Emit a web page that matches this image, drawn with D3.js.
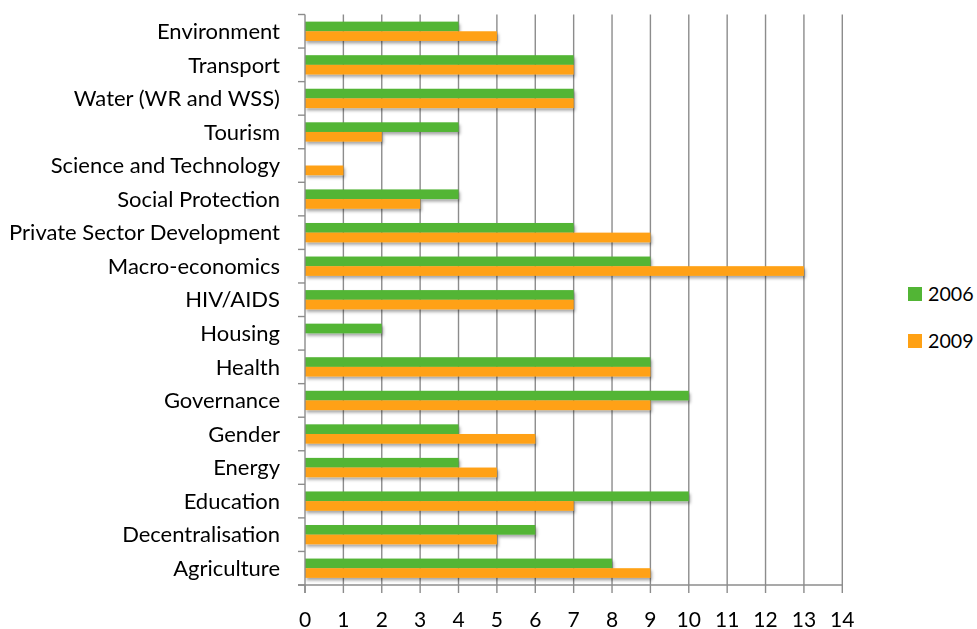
<!DOCTYPE html>
<html>
<head>
<meta charset="utf-8">
<script src="https://cdn.jsdelivr.net/npm/d3@7"></script>
<style>
  html, body { margin: 0; padding: 0; background: #fff; }
  svg { display: block; }
  text { font-family: "Lato", "Open Sans", sans-serif; fill: #000; }
</style>
</head>
<body>
<svg id="chart" width="977" height="629"></svg>
<script>
const categories = ["Environment","Transport","Water (WR and WSS)","Tourism","Science and Technology","Social Protection","Private Sector Development","Macro-economics","HIV/AIDS","Housing","Health","Governance","Gender","Energy","Education","Decentralisation","Agriculture"];
const series = ["2006","2009"];
const values2006 = [4,7,7,4,0,4,7,9,7,2,9,10,4,4,10,6,8];
const values2009 = [5,7,7,2,1,3,9,13,7,0,9,9,6,5,7,5,9];
const xTicks = [0,1,2,3,4,5,6,7,8,9,10,11,12,13,14];
const colors = {"2006":"#52B535","2009":"#FFA114"};

const svg = d3.select("#chart");
const plotLeft = 305, plotRight = 842.3, plotTop = 14.5, plotBottom = 585;
const x = d3.scaleLinear().domain([0,14]).range([plotLeft,plotRight]);
const y = d3.scaleBand().domain(categories).range([plotTop,plotBottom]).paddingInner(0.425).paddingOuter(0.2125);
const ySub = d3.scaleBand().domain(series).range([0,y.bandwidth()]);
const gridColor = "#8c8c8c";

// shadow filter
const defs = svg.append("defs");
const f = defs.append("filter").attr("id","sh").attr("x","-5%").attr("y","-5%").attr("width","115%").attr("height","115%");
f.append("feDropShadow").attr("dx",1.5).attr("dy",2.5).attr("stdDeviation",1.8).attr("flood-color","#000").attr("flood-opacity",0.35);

// gridlines
svg.append("g").selectAll("line").data(xTicks.filter(d=>d>0)).join("line")
  .attr("x1",d=>x(d)).attr("x2",d=>x(d)).attr("y1",plotTop).attr("y2",plotBottom)
  .attr("stroke",gridColor).attr("stroke-width",1.4);

// bars
const rows = categories.map((c,i)=>({cat:c, vals:[{s:"2006",v:values2006[i]},{s:"2009",v:values2009[i]}]}));
const g = svg.append("g").attr("filter","url(#sh)");
g.selectAll("g").data(rows).join("g")
  .attr("transform",d=>`translate(0,${y(d.cat)})`)
  .selectAll("rect").data(d=>d.vals.filter(v=>v.v>0)).join("rect")
  .attr("x",x(0)).attr("y",d=>ySub(d.s)).attr("height",ySub.bandwidth())
  .attr("width",d=>x(d.v)-x(0)).attr("fill",d=>colors[d.s]);

// axes lines
svg.append("line").attr("x1",x(0)).attr("x2",x(0)).attr("y1",plotTop).attr("y2",plotBottom+8).attr("stroke",gridColor).attr("stroke-width",1.4);
svg.append("line").attr("x1",x(0)-7).attr("x2",plotRight).attr("y1",plotBottom).attr("y2",plotBottom).attr("stroke",gridColor).attr("stroke-width",1.4);
// y tick marks at band boundaries
const bounds = d3.range(categories.length+1).map(i=>plotTop + i*y.step());
svg.append("g").selectAll("line").data(bounds).join("line")
  .attr("x1",x(0)-7).attr("x2",x(0)).attr("y1",d=>d).attr("y2",d=>d)
  .attr("stroke",gridColor).attr("stroke-width",1.4);
// x tick marks
svg.append("g").selectAll("line").data(xTicks).join("line")
  .attr("x1",d=>x(d)).attr("x2",d=>x(d)).attr("y1",plotBottom).attr("y2",plotBottom+8)
  .attr("stroke",gridColor).attr("stroke-width",1.4);

// fit font size helper
function fitSize(str, target){
  const t = svg.append("text").attr("font-size",100).text(str);
  const w = t.node().getComputedTextLength();
  t.remove();
  return 100*target/w;
}
const catSize = fitSize("Private Sector Development", 271);
const tickSize = fitSize("10", 24.4);
const legSize = fitSize("2006", 45.6);

// category labels
svg.append("g").selectAll("text").data(categories).join("text")
  .attr("x",280).attr("y",d=>y(d)+y.bandwidth()/2).attr("dy","0.35em")
  .attr("text-anchor","end").attr("font-size",catSize).text(d=>d);

// x tick labels
svg.append("g").selectAll("text").data(xTicks).join("text")
  .attr("x",d=>x(d)).attr("y",626.5).attr("text-anchor","middle")
  .attr("font-size",tickSize).text(d=>d);

// legend
const legY = [294, 341];
const leg = svg.append("g").selectAll("g").data(series).join("g")
  .attr("transform",(d,i)=>`translate(908,${legY[i]})`);
leg.append("rect").attr("x",0).attr("y",-7).attr("width",14).attr("height",14).attr("fill",d=>colors[d]);
leg.append("text").attr("x",20).attr("y",0).attr("dy","0.35em").attr("font-size",legSize).text(d=>d);
</script>
</body>
</html>
